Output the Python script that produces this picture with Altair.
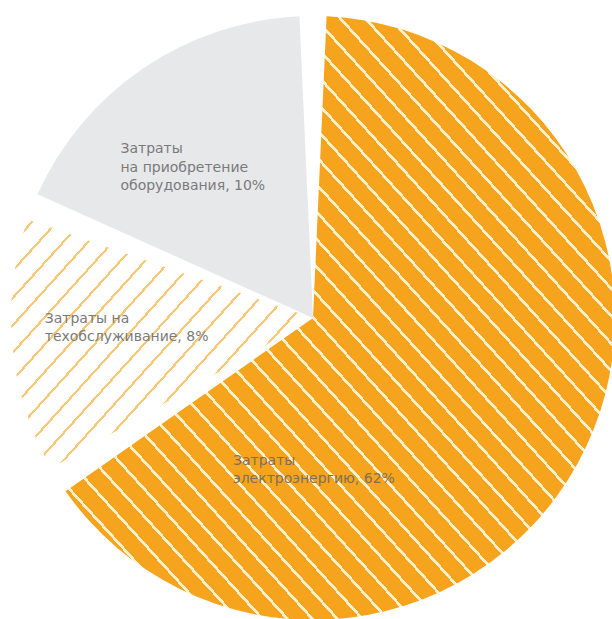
import altair as alt
import pandas as pd

# --- data ---
categories = [
    "Затраты на электроэнергию",
    "Затраты на техобслуживание",
    "Затраты на приобретение оборудования",
]
# slice sizes as drawn (share of the full circle, %)
shares = [66, 15, 19]
labels = [
    "Затраты\nэлектроэнергию, 62%",
    "Затраты на\nтехобслуживание, 8%",
    "Затраты\nна приобретение\nоборудования, 10%",
]

df = pd.DataFrame({"category": categories, "share": shares, "label": labels})

ORANGE = "#F6A41E"
GREY = "#E7E8EA"


def stripes(base_col, line_col, n, frac, x1, y1, x2, y2):
    stops = []
    for k in range(n):
        a = k / n
        b = (k + 1 - frac) / n
        c = (k + 1) / n
        stops += [
            {"offset": round(a, 5), "color": base_col},
            {"offset": round(b, 5), "color": base_col},
            {"offset": round(b, 5), "color": line_col},
            {"offset": round(c, 5), "color": line_col},
        ]
    return {"gradient": "linear", "x1": x1, "y1": y1, "x2": x2, "y2": y2, "stops": stops}


orange_fill = stripes(ORANGE, "#FFEFCB", 44, 0.15, 0, 1, 1, 0)
hatch_fill = stripes("#FFFFFF", "#F8C877", 19, 0.12, 0, 0, 1, 0.745)

base = alt.Chart(df).transform_window(idx="row_number()")

arcs = base.mark_arc(outerRadius=302, padAngle=0.09).encode(
    theta=alt.Theta("share:Q", stack=True),
    order=alt.Order("idx:Q"),
    fill={
        "condition": [
            {"test": "datum.idx == 1", "value": orange_fill},
            {"test": "datum.idx == 2", "value": hatch_fill},
        ],
        "value": GREY,
    },
)


def label_layer(i, dx, dy, color):
    return base.transform_calculate(
        txt=f"datum.idx == {i} ? datum.label : ''"
    ).mark_text(
        radius=170,
        align="left",
        baseline="alphabetic",
        lineBreak="\n",
        lineHeight=18.5,
        font="DejaVu Sans",
        fontSize=14,
        color=color,
        dx=dx,
        dy=dy,
    ).encode(
        theta=alt.Theta("share:Q", stack=True),
        order=alt.Order("idx:Q"),
        text="txt:N",
    )


chart = alt.layer(
    arcs,
    label_layer(1, -229, 65, "#7E7058"),
    label_layer(2, -99, -11, "#7A7A7A"),
    label_layer(3, -97, -24, "#7A7A7A"),
).properties(
    width=598,
    height=602,
    padding={"left": 14, "top": 17, "right": 0, "bottom": 0},
    autosize="none",
    background="white",
).configure_view(stroke=None)

chart.save("out.html", embed_options={"renderer": "svg", "actions": False})
